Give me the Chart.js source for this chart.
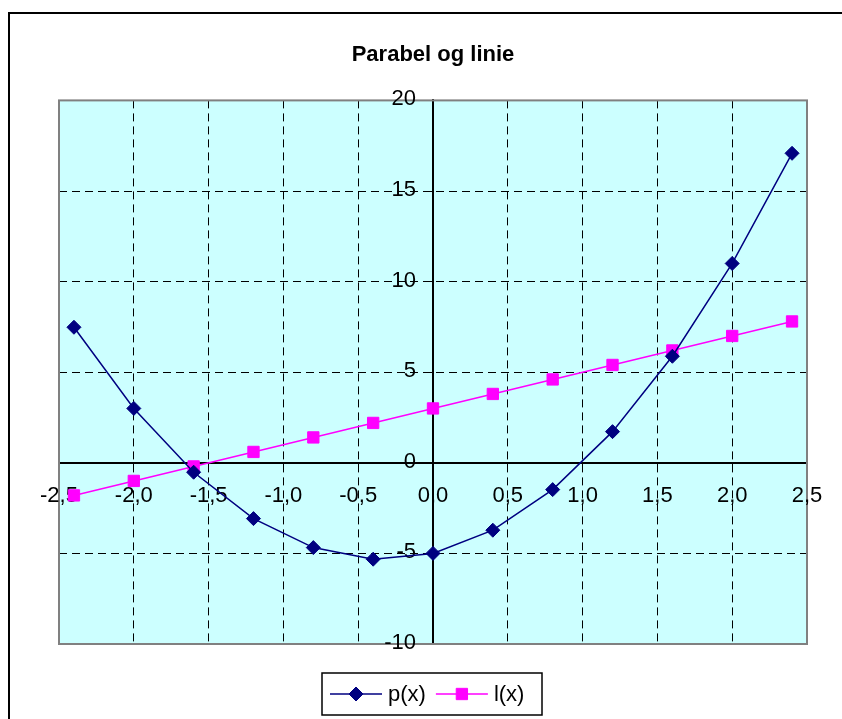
<!DOCTYPE html>
<html>
<head>
<meta charset="utf-8">
<script src="https://cdn.jsdelivr.net/npm/chart.js@4.4.1/dist/chart.umd.min.js"></script>
<style>
  body { margin: 0; background: #fff; }
  canvas { display: block; }
</style>
</head>
<body>
<canvas id="chart" width="842" height="719"></canvas>
<script>
// x values and the two series
const xValues = [-2.4, -2.0, -1.6, -1.2, -0.8, -0.4, 0, 0.4, 0.8, 1.2, 1.6, 2.0, 2.4];
const pValues = [7.48, 3, -0.52, -3.08, -4.68, -5.32, -5, -3.72, -1.48, 1.72, 5.88, 11, 17.08];
const lValues = [-1.8, -1, -0.2, 0.6, 1.4, 2.2, 3, 3.8, 4.6, 5.4, 6.2, 7, 7.8];
const seriesNames = ['p(x)', 'l(x)'];
const titleText = 'Parabel og linie';

const FONT = "'Liberation Sans', Arial, sans-serif";

const toPoints = (ys) => xValues.map((x, i) => ({ x: x, y: ys[i] }));

// plot background, outer frame and plot border
const backdrop = {
  id: 'backdrop',
  beforeDraw(chart) {
    const { ctx, chartArea: a } = chart;
    ctx.save();
    ctx.fillStyle = '#000';
    ctx.fillRect(8, 12, chart.width - 8, 2);
    ctx.fillRect(8, 12, 2, chart.height - 12);
    ctx.fillStyle = '#ccffff';
    ctx.fillRect(a.left, a.top, a.right - a.left, a.bottom - a.top);
    ctx.restore();
  },
  beforeDatasetsDraw(chart) {
    const { ctx, chartArea: a } = chart;
    ctx.save();
    ctx.strokeStyle = '#808080';
    ctx.lineWidth = 2;
    ctx.strokeRect(a.left, a.top, a.right - a.left, a.bottom - a.top);
    ctx.restore();
  }
};

// tick labels sit next to the axes that cross at zero
const axisLabels = {
  id: 'axisLabels',
  beforeDatasetsDraw(chart) {
    const { ctx, scales: { x, y } } = chart;
    const x0 = x.getPixelForValue(0);
    const y0 = y.getPixelForValue(0);
    ctx.save();
    ctx.font = '22px ' + FONT;
    ctx.fillStyle = '#000';
    ctx.textBaseline = 'middle';
    ctx.textAlign = 'right';
    y.ticks.forEach((t) => {
      ctx.fillText(t.label, x0 - 17, y.getPixelForValue(t.value) - 1);
    });
    ctx.textAlign = 'center';
    x.ticks.forEach((t) => {
      ctx.fillText(t.label, x.getPixelForValue(t.value), y0 + 33);
    });
    ctx.restore();
  }
};

// legend box at the bottom, excel style
const boxLegend = {
  id: 'boxLegend',
  afterDraw(chart) {
    const ctx = chart.ctx;
    const left = 322, top = 673, width = 220, height = 42;
    const midY = top + height / 2;
    ctx.save();
    ctx.strokeStyle = '#000';
    ctx.lineWidth = 1.5;
    ctx.strokeRect(left, top, width, height);
    ctx.font = '22px ' + FONT;
    ctx.textBaseline = 'middle';
    let x = left + 8;
    chart.data.datasets.forEach((ds) => {
      ctx.strokeStyle = ds.borderColor;
      ctx.fillStyle = ds.backgroundColor;
      ctx.lineWidth = 1.5;
      ctx.beginPath();
      ctx.moveTo(x, midY);
      ctx.lineTo(x + 52, midY);
      ctx.stroke();
      ctx.lineWidth = 1;
      Chart.helpers.drawPoint(ctx, {
        pointStyle: ds.pointStyle,
        radius: ds.pointRadius,
        borderWidth: 1
      }, x + 26, midY);
      ctx.fillStyle = '#000';
      ctx.fillText(ds.label, x + 58, midY + 1);
      x += 58 + ctx.measureText(ds.label).width + 10;
    });
    ctx.restore();
  }
};

const commaFmt = (v) => Number(v).toFixed(1).replace('.', ',');

new Chart(document.getElementById('chart'), {
  type: 'line',
  data: {
    datasets: [
      {
        label: seriesNames[0],
        data: toPoints(pValues),
        borderColor: '#000080',
        backgroundColor: '#000080',
        borderWidth: 1.5,
        pointStyle: 'rectRot',
        pointRadius: 7,
        pointBorderWidth: 1,
        tension: 0
      },
      {
        label: seriesNames[1],
        data: toPoints(lValues),
        borderColor: '#ff00ff',
        backgroundColor: '#ff00ff',
        borderWidth: 1.5,
        pointStyle: 'rect',
        pointRadius: 8,
        pointBorderWidth: 1,
        tension: 0
      }
    ]
  },
  options: {
    responsive: false,
    animation: false,
    layout: { padding: { left: 59, right: 35, top: 42, bottom: 75 } },
    scales: {
      x: {
        type: 'linear',
        min: -2.5,
        max: 2.5,
        position: { y: 0 },
        grid: {
          color: (c) => (c.tick && (c.tick.value === -2.5 || c.tick.value === 2.5 || c.tick.value === 0)) ? 'rgba(0,0,0,0)' : '#000',
          lineWidth: 1,
          tickLength: 6,
          tickColor: '#000'
        },
        border: { display: true, color: '#000', width: 2, dash: [8, 5] },
        ticks: {
          display: false,
          stepSize: 0.5,
          autoSkip: false,
          maxRotation: 0,
          callback: (v) => commaFmt(v)
        }
      },
      y: {
        type: 'linear',
        min: -10,
        max: 20,
        position: { x: 0 },
        grid: {
          color: (c) => (c.tick && (c.tick.value === -10 || c.tick.value === 20 || c.tick.value === 0)) ? 'rgba(0,0,0,0)' : '#000',
          lineWidth: 1,
          tickLength: 6,
          tickColor: '#000'
        },
        border: { display: true, color: '#000', width: 2, dash: [8, 5] },
        ticks: {
          display: false,
          stepSize: 5,
          autoSkip: false
        }
      }
    },
    plugins: {
      legend: { display: false },
      tooltip: { enabled: false },
      title: {
        display: true,
        text: titleText,
        color: '#000',
        font: { family: FONT, size: 22, weight: 'bold', lineHeight: 1.2 },
        padding: { top: 0, bottom: 32 }
      }
    }
  },
  plugins: [backdrop, axisLabels, boxLegend]
});
</script>
</body>
</html>
